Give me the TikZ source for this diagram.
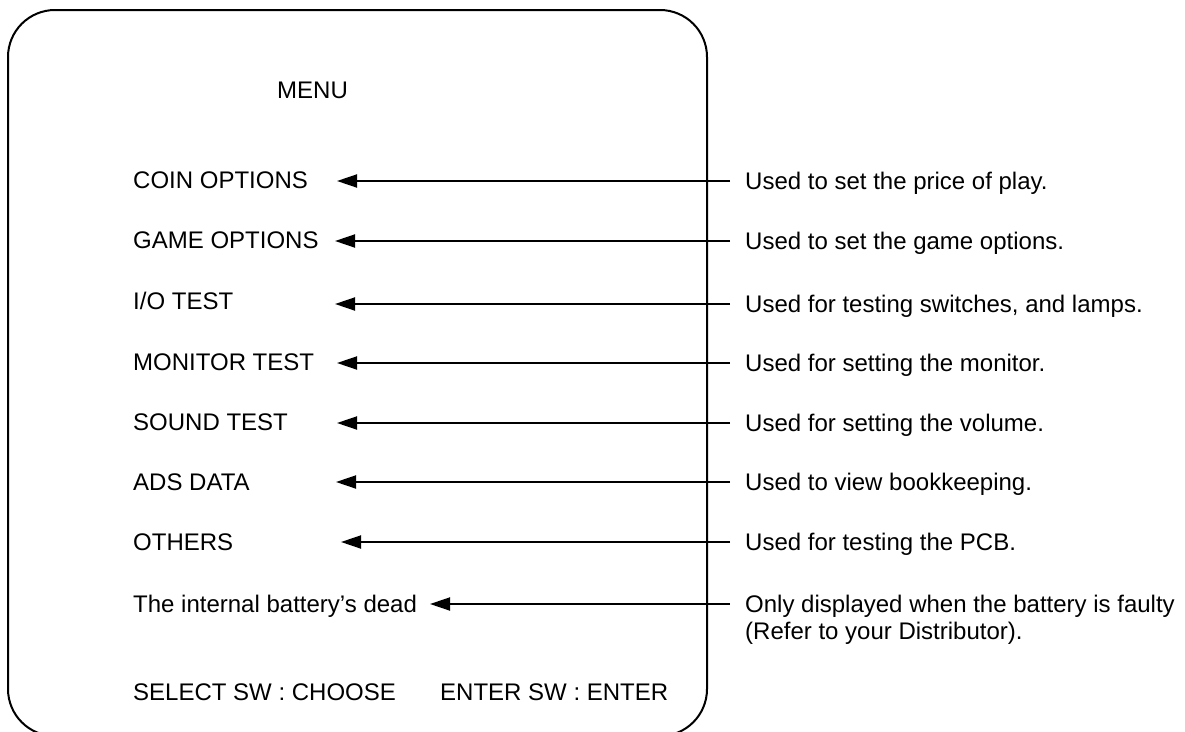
\documentclass[tikz,border=0pt]{standalone}
\usepackage{fontspec}
\setmainfont{Liberation Sans}
\usetikzlibrary{arrows.meta}
\tikzset{
  frame/.style={draw=black, line width=2pt, rounded corners=47pt},
  item/.style={anchor=west, inner sep=0pt, text height=17.2pt, text depth=0pt,
    font=\fontsize{24}{29}\selectfont},
  note/.style={item, inner xsep=15pt},
  ptr/.style={draw=black, line width=1.9pt, -{Triangle[length=20pt,width=13pt]}}
}
\begin{document}
\begin{tikzpicture}[x=1pt,y=-1pt]
  \useasboundingbox (0,0) rectangle (1185,731);
  \fill[white] (0,0) rectangle (1185,731);
  \clip (0,0) rectangle (1185,731);

  % screen outline, runs off the bottom edge
  \draw[frame] (8,10) rectangle (707,736);

  \node[item] (menu) at (277,90) {MENU};

  % menu entries
  \node[item] (m1) at (133,180) {COIN OPTIONS};
  \node[item] (m2) at (133,240) {GAME OPTIONS};
  \node[item] (m3) at (133,301) {I/O TEST};
  \node[item] (m4) at (133,362) {MONITOR TEST};
  \node[item] (m5) at (133,422) {SOUND TEST};
  \node[item] (m6) at (133,482) {ADS DATA};
  \node[item] (m7) at (133,542) {OTHERS};
  \node[item] (m8) at (133,604) {The internal battery’s dead};

  \node[item] (sel) at (133,692) {SELECT SW : CHOOSE};
  \node[item] (ent) at (440,692) {ENTER SW : ENTER};

  % arrow tips
  \coordinate (t1) at (337,181);
  \coordinate (t2) at (335,241);
  \coordinate (t3) at (335,304);
  \coordinate (t4) at (337,363);
  \coordinate (t5) at (337,423);
  \coordinate (t6) at (336,482);
  \coordinate (t7) at (341,542);
  \coordinate (t8) at (430,604);

  % descriptions
  \node[note] (d1) at (730,181) {Used to set the price of play.};
  \node[note] (d2) at (730,241) {Used to set the game options.};
  \node[note] (d3) at (730,304) {Used for testing switches, and lamps.};
  \node[note] (d4) at (730,363) {Used for setting the monitor.};
  \node[note] (d5) at (730,423) {Used for setting the volume.};
  \node[note] (d6) at (730,482) {Used to view bookkeeping.};
  \node[note] (d7) at (730,542) {Used for testing the PCB.};
  \node[note] (d8) at (730,604) {Only displayed when the battery is faulty};
  \node[note] (d9) at (730,631) {(Refer to your Distributor).};

  \draw[ptr] (d1.west) -- (t1);
  \draw[ptr] (d2.west) -- (t2);
  \draw[ptr] (d3.west) -- (t3);
  \draw[ptr] (d4.west) -- (t4);
  \draw[ptr] (d5.west) -- (t5);
  \draw[ptr] (d6.west) -- (t6);
  \draw[ptr] (d7.west) -- (t7);
  \draw[ptr] (d8.west) -- (t8);
\end{tikzpicture}
\end{document}
